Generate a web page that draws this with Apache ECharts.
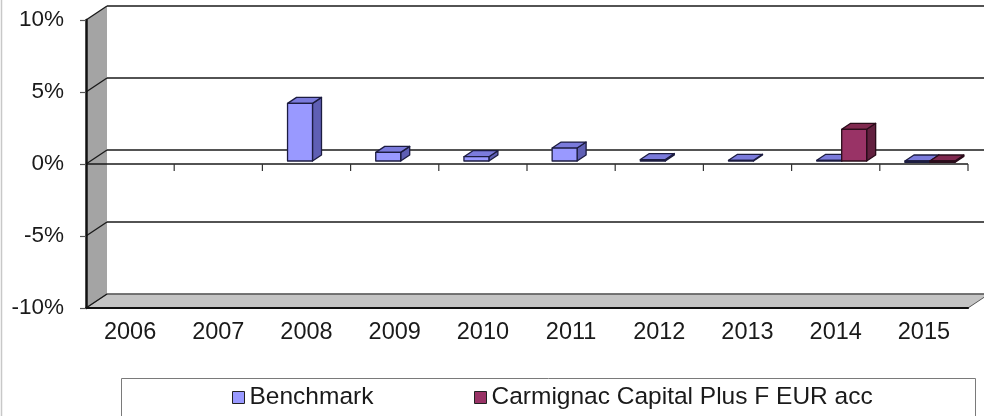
<!DOCTYPE html>
<html>
<head>
<meta charset="utf-8">
<script src="https://cdn.jsdelivr.net/npm/echarts@6/dist/echarts.min.js"></script>
<style>
  html, body { margin: 0; padding: 0; background: #fff; }
  #main { width: 984px; height: 416px; }
</style>
</head>
<body>
<div id="main"></div>
<script>
var YEARS = ['2006', '2007', '2008', '2009', '2010', '2011', '2012', '2013', '2014', '2015'];
var Y_TICKS = [-10, -5, 0, 5, 10];
var BENCHMARK = [null, null, 4.0, 0.6, 0.3, 0.9, 0.1, 0.05, 0.05, -0.1];
var CARMIGNAC = [null, null, null, null, null, null, null, null, 2.2, -0.1];
var NAMES = ['Benchmark', 'Carmignac Capital Plus F EUR acc'];

// 3d look: back plane offset, bar front offset, bar depth
var DX = 21, DY = -14;
var FX = 6, FY = -3;
var BX = 9, BY = -6;
var BAR_SHARE = 0.283;
var FONT = "'Liberation Sans', Arial, sans-serif";

var myChart = echarts.init(document.getElementById('main'));

function pairs(arr) {
    var out = [];
    arr.forEach(function (v, i) {
        if (v !== null) out.push([i, v]);
    });
    return out;
}

// back wall, side wall, floor, gridlines
function renderFrame(params, api) {
    if (params.dataIndex > 0) return;
    var cs = params.coordSys;
    var L = cs.x, R = cs.x + cs.width, T = cs.y, B = cs.y + cs.height;
    var kids = [];
    kids.push({
        type: 'rect',
        shape: { x: L + DX, y: T + DY, width: cs.width + 10, height: cs.height },
        style: { fill: '#fff' }
    });
    kids.push({
        type: 'polygon',
        shape: { points: [[L, T], [L + DX, T + DY], [L + DX, B + DY], [L, B]] },
        style: { fill: '#a4a4a4' }
    });
    kids.push({
        type: 'polygon',
        shape: { points: [[L, B], [L + DX, B + DY], [R + DX, B + DY], [R, B]] },
        style: { fill: '#c4c4c4', stroke: '#555', lineWidth: 1 }
    });
    Y_TICKS.forEach(function (v) {
        var y = api.coord([0, v])[1];
        kids.push({
            type: 'line',
            shape: { x1: L + DX, y1: y + DY, x2: R + DX + 10, y2: y + DY },
            style: { stroke: v === -10 ? '#666' : '#1a1a1a', lineWidth: 1.6 }
        });
        kids.push({
            type: 'line',
            shape: { x1: L, y1: y, x2: L + DX, y2: y + DY },
            style: { stroke: '#1a1a1a', lineWidth: 1.4 }
        });
    });
    return { type: 'group', children: kids };
}

// zero line on the front plane with category ticks
function renderFront(params, api) {
    if (params.dataIndex > 0) return;
    var cs = params.coordSys;
    var L = cs.x, R = cs.x + cs.width;
    var y0 = api.coord([0, 0])[1];
    var bw = api.size([1, 0])[0];
    var kids = [{
        type: 'line',
        shape: { x1: L, y1: y0, x2: R, y2: y0 },
        style: { stroke: '#1a1a1a', lineWidth: 1.6 }
    }];
    for (var i = 0; i < YEARS.length; i++) {
        var x = api.coord([i, 0])[0] + bw / 2;
        kids.push({
            type: 'line',
            shape: { x1: x, y1: y0, x2: x, y2: y0 + 7 },
            style: { stroke: '#333', lineWidth: 1.2 }
        });
    }
    return { type: 'group', children: kids };
}

function barRenderer(side, c) {
    return function (params, api) {
        var idx = api.value(0), val = api.value(1);
        var p = api.coord([idx, val]);
        var p0 = api.coord([idx, 0]);
        var bw = api.size([1, 0])[0] * BAR_SHARE;
        var x0 = side < 0 ? p[0] - bw + FX : p[0] + FX;
        var x1 = x0 + bw;
        var yt = Math.min(p[1], p0[1]) + FY;
        var yb = Math.max(p[1], p0[1]) + FY;
        var edge = { stroke: c.edge, lineWidth: 1.3, lineJoin: 'round' };
        return {
            type: 'group',
            children: [
                {
                    type: 'polygon',
                    shape: { points: [[x1, yt], [x1 + BX, yt + BY], [x1 + BX, yb + BY], [x1, yb]] },
                    style: Object.assign({ fill: c.side }, edge)
                },
                {
                    type: 'polygon',
                    shape: { points: [[x0, yt], [x1, yt], [x1 + BX, yt + BY], [x0 + BX, yt + BY]] },
                    style: Object.assign({ fill: c.top }, edge)
                },
                {
                    type: 'rect',
                    shape: { x: x0, y: yt, width: bw, height: yb - yt },
                    style: Object.assign({ fill: c.front }, edge)
                }
            ]
        };
    };
}

var benchColors = { front: '#9999ff', top: '#7b7bdc', side: '#5f5fb4', edge: '#1c1c40' };
var carmColors = { front: '#993366', top: '#80294f', side: '#62203f', edge: '#2a0c1a' };

var legendText = { fontSize: 24.5, color: '#1a1a1a', fontFamily: FONT };

myChart.setOption({
    backgroundColor: '#fff',
    animation: false,
    textStyle: { fontFamily: FONT },
    grid: { left: 86, right: 16, top: 20, bottom: 108 },
    graphic: [
        {
            type: 'rect',
            shape: { x: 121.5, y: 378.5, width: 854, height: 60 },
            style: { fill: '#fff', stroke: '#7a7a7a', lineWidth: 1 },
            z: 0
        },
        {
            type: 'line',
            shape: { x1: 1.5, y1: 0, x2: 1.5, y2: 416 },
            style: { stroke: '#c8c8c8', lineWidth: 1.5 }
        }
    ],
    legend: [
        {
            data: [{ name: NAMES[0], icon: 'rect' }],
            left: 232, top: 385, padding: 0,
            itemWidth: 12, itemHeight: 12, itemGap: 0,
            itemStyle: { borderColor: '#222', borderWidth: 1 },
            textStyle: legendText,
            selectedMode: false
        },
        {
            data: [{ name: NAMES[1], icon: 'rect' }],
            left: 474, top: 385, padding: 0,
            itemWidth: 12, itemHeight: 12, itemGap: 0,
            itemStyle: { borderColor: '#222', borderWidth: 1 },
            textStyle: legendText,
            selectedMode: false
        }
    ],
    xAxis: {
        type: 'category',
        data: YEARS,
        boundaryGap: true,
        z: 6,
        axisLine: { show: true, onZero: false, lineStyle: { color: '#111', width: 2.2 } },
        axisTick: { show: false },
        axisLabel: { margin: 13, fontSize: 23.5, color: '#1a1a1a', fontFamily: FONT },
        splitLine: { show: false }
    },
    yAxis: {
        type: 'value',
        min: -10,
        max: 10,
        interval: 5,
        z: 6,
        axisLine: { show: true, lineStyle: { color: '#111', width: 2.5 } },
        axisTick: { show: true, length: 6, lineStyle: { color: '#555', width: 1.2 } },
        axisLabel: { margin: 22, fontSize: 22.5, color: '#1a1a1a', fontFamily: FONT, formatter: '{value}%' },
        splitLine: { show: false }
    },
    series: [
        {
            name: 'frame',
            type: 'custom',
            silent: true,
            z: 1,
            renderItem: renderFrame,
            encode: { x: 0, y: 1 },
            data: [[0, 0]]
        },
        {
            name: NAMES[0],
            type: 'custom',
            z: 3,
            itemStyle: { color: benchColors.front },
            renderItem: barRenderer(-1, benchColors),
            encode: { x: 0, y: 1 },
            data: pairs(BENCHMARK)
        },
        {
            name: NAMES[1],
            type: 'custom',
            z: 3,
            itemStyle: { color: carmColors.front },
            renderItem: barRenderer(1, carmColors),
            encode: { x: 0, y: 1 },
            data: pairs(CARMIGNAC)
        },
        {
            name: 'front',
            type: 'custom',
            silent: true,
            z: 4,
            renderItem: renderFront,
            encode: { x: 0, y: 1 },
            data: [[0, 0]]
        }
    ]
});
</script>
</body>
</html>
